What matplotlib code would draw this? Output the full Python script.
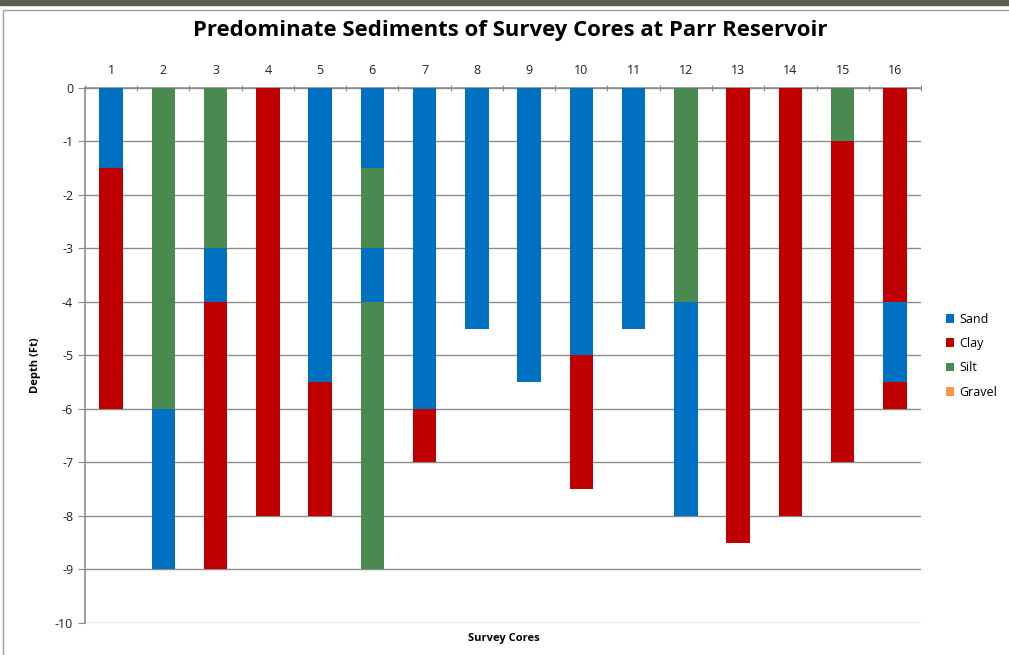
import numpy as np
import matplotlib
matplotlib.use("Agg")
import matplotlib.pyplot as plt
from matplotlib.patches import Patch, Rectangle

plt.rcParams['font.family'] = ['Open Sans', 'DejaVu Sans']
plt.rcParams['axes.unicode_minus'] = False

cores = list(range(1, 17))
materials = ["Sand", "Clay", "Silt", "Gravel"]
colors = {"Sand": "#0070C0", "Clay": "#C00000", "Silt": "#4A8A51", "Gravel": "#F79646"}

# layers from the top down, thickness in ft
layer1_type = ["Sand", "Silt", "Silt", "Clay", "Sand", "Sand", "Sand", "Sand",
               "Sand", "Sand", "Sand", "Silt", "Clay", "Clay", "Silt", "Clay"]
layer1_ft = [1.5, 6, 3, 8, 5.5, 1.5, 6, 4.5, 5.5, 5, 4.5, 4, 8.5, 8, 1, 4]
layer2_type = ["Clay", "Sand", "Sand", None, "Clay", "Silt", "Clay", None,
               None, "Clay", None, "Sand", None, None, "Clay", "Sand"]
layer2_ft = [4.5, 3, 1, 0, 2.5, 1.5, 1, 0, 0, 2.5, 0, 4, 0, 0, 6, 1.5]
layer3_type = [None, None, "Clay", None, None, "Sand", None, None,
               None, None, None, None, None, None, None, "Clay"]
layer3_ft = [0, 0, 5, 0, 0, 1, 0, 0, 0, 0, 0, 0, 0, 0, 0, 0.5]
layer4_type = [None, None, None, None, None, "Silt", None, None,
               None, None, None, None, None, None, None, None]
layer4_ft = [0, 0, 0, 0, 0, 5, 0, 0, 0, 0, 0, 0, 0, 0, 0, 0]

fig = plt.figure(figsize=(10.09, 6.55), dpi=100)
ax = fig.add_axes([0.0842, 0.0489, 0.8286, 0.8168])

top = np.zeros(len(cores))
for types, ft in [(layer1_type, layer1_ft), (layer2_type, layer2_ft),
                  (layer3_type, layer3_ft), (layer4_type, layer4_ft)]:
    ft = np.array(ft, dtype=float)
    for i, c in enumerate(cores):
        if types[i] is None:
            continue
        ax.bar(c, -ft[i], bottom=-top[i], width=0.45, color=colors[types[i]],
               zorder=3)
    top += ft

ax.set_xlim(0.5, 16.5)
ax.set_ylim(-10, 0)
ax.set_yticks(range(-10, 1))
ax.set_yticklabels([str(v) for v in range(-10, 1)])
ax.yaxis.grid(True, color="#8c8c8c", lw=1)
ax.set_axisbelow(True)

ax.xaxis.tick_top()
ax.set_xticks(np.arange(0.5, 17, 1))
ax.set_xticklabels([])
ax.set_xticks(cores, minor=True)
ax.set_xticklabels([str(c) for c in cores], minor=True)
ax.tick_params(axis="x", which="major", length=4, direction="inout", color="#8c8c8c")
ax.tick_params(axis="x", which="minor", length=0, labelsize=9, colors="#222222", pad=8)
ax.tick_params(axis="y", length=5, color="#8c8c8c", labelsize=9, labelcolor="#222222")

for s in ["right", "bottom"]:
    ax.spines[s].set_visible(False)
ax.spines["left"].set_color("#8c8c8c")
ax.spines["top"].set_color("#8c8c8c")
ax.spines["left"].set_linewidth(1.2)
ax.spines["top"].set_linewidth(1.2)

fig.text(0.035, 0.443, "Depth (Ft)", fontsize=8, fontweight="bold",
         rotation=90, ha="center", va="center")
fig.text(0.4995, 0.025, "Survey Cores", fontsize=8, fontweight="bold",
         ha="center", va="center")
fig.text(0.5055, 0.953, "Predominate Sediments of Survey Cores at Parr Reservoir",
         fontsize=15.9, fontweight="bold", ha="center", va="center")

handles = [Patch(facecolor=colors[m], label=m) for m in materials]
fig.legend(handles=handles, loc="center left", bbox_to_anchor=(0.926, 0.457),
           frameon=False, fontsize=9, handlelength=0.7, handleheight=0.7,
           handletextpad=0.4, labelspacing=0.9)

# screenshot frame
fig.patches.append(Rectangle((0, 0.992), 1, 0.008, transform=fig.transFigure,
                             color="#5a6050", zorder=0))
fig.patches.append(Rectangle((0.003, -0.01), 1.0, 1.002 - 0.008, transform=fig.transFigure,
                             fill=False, edgecolor="#a0a0a0", lw=1, zorder=0))

fig.savefig("out.png", dpi=100)
